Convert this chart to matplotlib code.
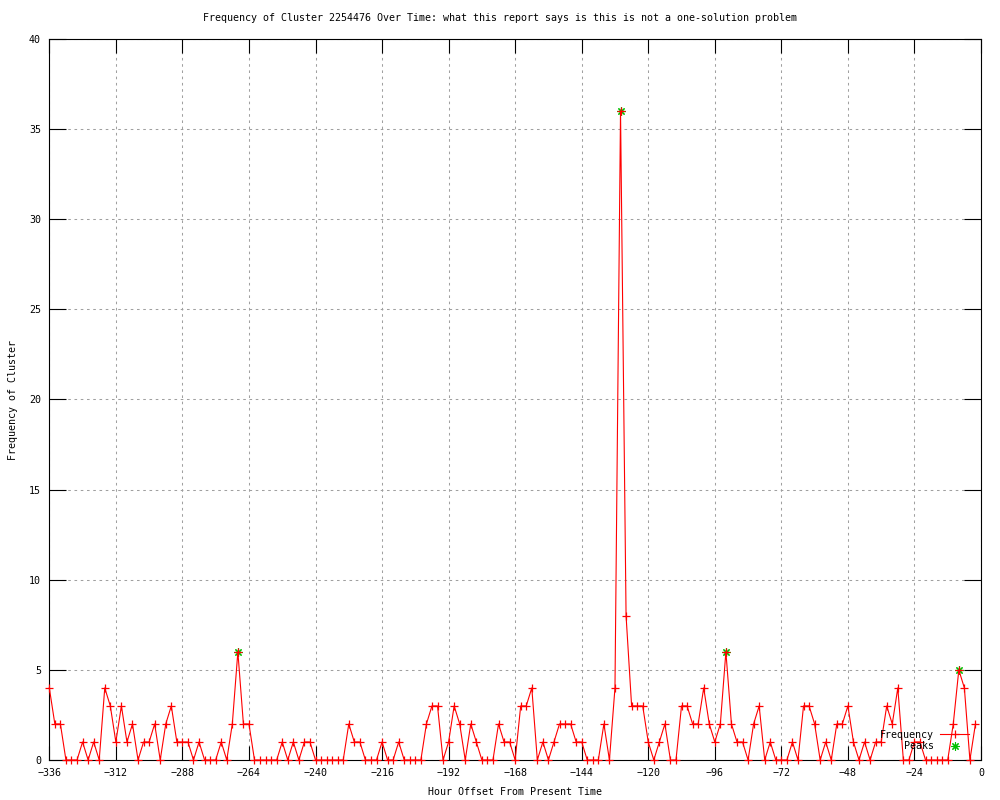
"""Cluster frequency over time, gnuplot-style line chart."""

import numpy as np
import matplotlib
matplotlib.use("Agg")
import matplotlib.pyplot as plt
from matplotlib.ticker import MultipleLocator

# hour offsets, one sample every 2 hours from -336 to -2
hours = np.arange(-336, 0, 2)
counts = [
    4, 2, 2, 0, 0, 0, 1, 0, 1, 0, 4, 3, 1, 3, 1, 2, 0, 1, 1, 2,
    0, 2, 3, 1, 1, 1, 0, 1, 0, 0, 0, 1, 0, 2, 6, 2, 2, 0, 0, 0,
    0, 0, 1, 0, 1, 0, 1, 1, 0, 0, 0, 0, 0, 0, 2, 1, 1, 0, 0, 0,
    1, 0, 0, 1, 0, 0, 0, 0, 2, 3, 3, 0, 1, 3, 2, 0, 2, 1, 0, 0,
    0, 2, 1, 1, 0, 3, 3, 4, 0, 1, 0, 1, 2, 2, 2, 1, 1, 0, 0, 0,
    2, 0, 4, 36, 8, 3, 3, 3, 1, 0, 1, 2, 0, 0, 3, 3, 2, 2, 4, 2,
    1, 2, 6, 2, 1, 1, 0, 2, 3, 0, 1, 0, 0, 0, 1, 0, 3, 3, 2, 0,
    1, 0, 2, 2, 3, 1, 0, 1, 0, 1, 1, 3, 2, 4, 0, 0, 1, 1, 0, 0,
    0, 0, 0, 2, 5, 4, 0, 2,
]
peak_hours = [-268, -130, -92, -8]
peak_values = [6, 36, 6, 5]

title = ("Frequency of Cluster 2254476 Over Time: what this report says "
         "is this is not a one-solution problem")
xlabel = "Hour Offset From Present Time"
ylabel = "Frequency of Cluster"

FONT = "DejaVu Sans Mono"
FS = 7.2
RED = "#ff0000"
GREEN = "#00c000"


def main() -> None:
    plt.rcParams["font.family"] = FONT
    plt.rcParams["font.size"] = FS

    fig = plt.figure(figsize=(10, 8), dpi=100)
    ax = fig.add_axes([0.0493, 0.05, 0.9317, 0.90125])

    ax.plot(peak_hours, peak_values, ls="none", color=GREEN,
            marker=(8, 2, 0), ms=6, mew=0.8, label="Peaks", zorder=2,
            clip_on=False)
    ax.plot(hours, counts, color=RED, lw=0.8, marker="+", ms=5.5, mew=0.9,
            label="Frequency", zorder=3, clip_on=False)

    ax.set_xlim(-336, 0)
    ax.set_ylim(0, 40)
    ax.xaxis.set_major_locator(MultipleLocator(24))
    ax.yaxis.set_major_locator(MultipleLocator(5))

    ax.grid(True, color="#a0a0a0", lw=0.75, ls=(0, (2.5, 3.5)))
    ax.set_axisbelow(True)
    for sp in ax.spines.values():
        sp.set_linewidth(0.8)
        sp.set_color("black")
        sp.set_zorder(1)

    ax.tick_params(axis="x", direction="in", length=10, width=0.8,
                   top=True, pad=6, labelsize=FS)
    ax.tick_params(axis="y", direction="in", length=12, width=0.8,
                   right=True, pad=6, labelsize=FS)

    fig.text(0.5, 1 - 18 / 800, title, ha="center", va="center", fontsize=FS)
    ax.set_xlabel(xlabel, fontsize=FS)
    ax.xaxis.set_label_coords(0.5, -0.0444)
    ax.xaxis.label.set_va("center")
    ax.set_ylabel(ylabel, fontsize=FS)
    ax.yaxis.set_label_coords(-0.039, 0.5)
    ax.yaxis.label.set_va("center")

    handles, labels = ax.get_legend_handles_labels()
    ax.legend(handles[::-1], labels[::-1], loc="lower right",
              bbox_to_anchor=(0.969, 0.061),
              bbox_transform=fig.transFigure, frameon=False,
              markerfirst=False, numpoints=1, handlelength=2.9,
              handletextpad=0.6, labelspacing=0.15, borderpad=0,
              borderaxespad=0, fontsize=FS)

    fig.savefig("out.png", dpi=100)
    plt.close(fig)


if __name__ == "__main__":
    main()
